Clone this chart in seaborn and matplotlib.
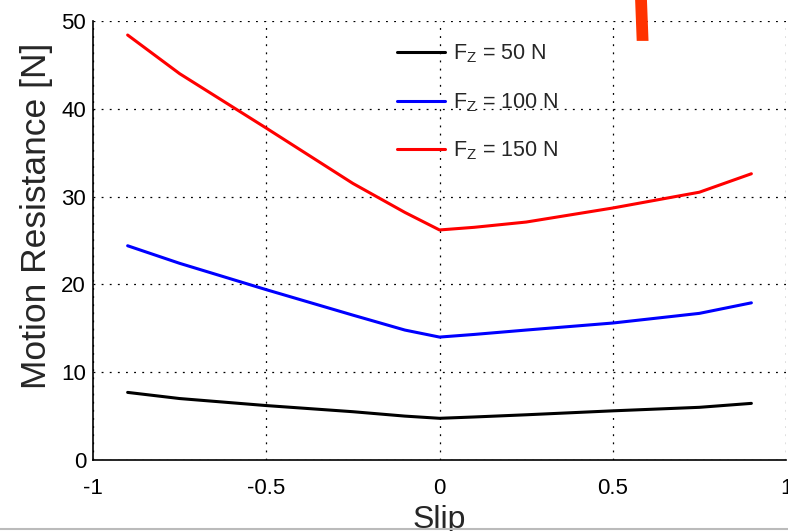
import matplotlib
matplotlib.use("Agg")
import matplotlib.pyplot as plt
import seaborn as sns
import pandas as pd
from matplotlib.patches import Polygon
from matplotlib.lines import Line2D

# %% data
slip = [-0.9, -0.75, -0.5, -0.25, -0.1, 0.0, 0.1, 0.25, 0.5, 0.75, 0.9]
res_50 = [7.7, 7.0, 6.2, 5.5, 5.0, 4.75, 4.9, 5.15, 5.6, 6.0, 6.45]
res_100 = [24.4, 22.4, 19.4, 16.5, 14.8, 14.0, 14.3, 14.8, 15.6, 16.7, 17.9]
res_150 = [48.4, 44.0, 37.8, 31.5, 28.2, 26.2, 26.5, 27.1, 28.7, 30.5, 32.6]
labels = [r"F$_Z$ = 50 N", r"F$_Z$ = 100 N", r"F$_Z$ = 150 N"]
colors = ["black", "#0000ff", "#ff0000"]
x_ticks = [-1, -0.5, 0, 0.5, 1]
x_ticklabels = ["-1", "-0.5", "0", "0.5", "1"]
y_ticks = [0, 10, 20, 30, 40, 50]

df = pd.concat([
    pd.DataFrame({"Slip": slip, "Res": vals, "Load": lab})
    for vals, lab in zip([res_50, res_100, res_150], labels)
])

# %% plot
sns.set_theme(style="white")
plt.rcParams["font.family"] = ["Liberation Sans", "DejaVu Sans"]
plt.rcParams["mathtext.default"] = "regular"

fig = plt.figure(figsize=(7.88, 5.31), dpi=100)
ax = fig.add_axes([0.118, 0.1337, 0.8795, 0.8268])

sns.lineplot(data=df, x="Slip", y="Res", hue="Load", hue_order=labels,
             palette=colors, linewidth=2.2, ax=ax, legend=False, sort=True)

ax.set_xlim(-1, 1)
ax.set_ylim(0, 50)
ax.set_xticks(x_ticks)
ax.set_xticklabels(x_ticklabels)
ax.set_yticks(y_ticks)
ax.grid(True, color="black", linestyle=(0, (1.5, 5)), linewidth=0.9)
for s in ["top", "right"]:
    ax.spines[s].set_visible(False)
for s in ["left", "bottom"]:
    ax.spines[s].set_color("black")
    ax.spines[s].set_linewidth(1.2)
ax.tick_params(axis="both", direction="in", length=5, color="black",
               labelsize=16, labelcolor="black")
ax.tick_params(axis="x", pad=13)
ax.tick_params(axis="y", pad=5)
ax.set_xlabel("Slip", fontsize=23, labelpad=4)
ax.set_ylabel("Motion Resistance [N]", fontsize=25.5)
ax.yaxis.set_label_coords(-0.058, 0.555)

handles = [Line2D([], [], color=c, linewidth=2.2) for c in colors]
ax.legend(handles, labels, loc="upper left", bbox_to_anchor=(0.423, 0.975),
          frameon=False, fontsize=15.5, handlelength=2.25, handletextpad=0.35,
          labelspacing=1.2, borderpad=0)

# red marker stroke at the top and grey rule at the bottom of the image
fig.patches.append(Polygon([(0.806, 1.0), (0.821, 1.0), (0.823, 0.923), (0.808, 0.923)],
                           closed=True, transform=fig.transFigure,
                           facecolor="#ff3300", edgecolor="none"))
fig.lines.append(Line2D([0, 1], [0.003, 0.003], transform=fig.transFigure,
                        color="#bbbbbb", linewidth=1.5))

fig.savefig("out.png", dpi=100)
